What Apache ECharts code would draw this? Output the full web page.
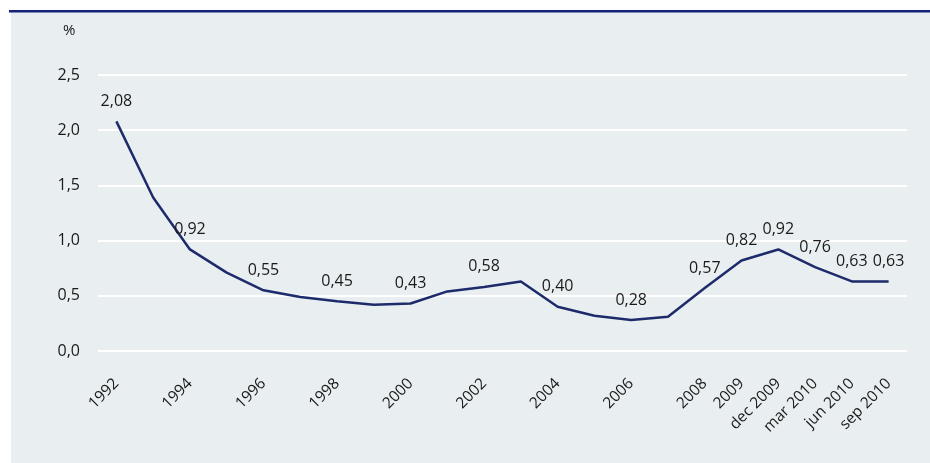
<!DOCTYPE html>
<html><head><meta charset="utf-8">
<script src="https://cdn.jsdelivr.net/npm/echarts@6/dist/echarts.min.js"></script>
<style>html,body{margin:0;padding:0;background:#fff}#c{width:930px;height:463px}</style>
</head><body><div id="c"></div>
<script>
const categories = ['1992','1993','1994','1995','1996','1997','1998','1999','2000','2001','2002','2003','2004','2005','2006','2007','2008','2009','dec 2009','mar 2010','jun 2010','sep 2010'];
const values = [2.08,1.39,0.92,0.71,0.55,0.49,0.45,0.42,0.43,0.54,0.58,0.63,0.40,0.32,0.28,0.31,0.57,0.82,0.92,0.76,0.63,0.63];
const labelledIdx = [0,2,4,6,8,10,12,14,16,17,18,19,20,21];
const shownTickIdx = [0,2,4,6,8,10,12,14,16,17,18,19,20,21];
const yTicks = [0,0.5,1,1.5,2,2.5];

const FONT = '"Open Sans", "Noto Sans", sans-serif';
const chart = echarts.init(document.getElementById('c'), null, {renderer:'canvas'});
chart.setOption({
  animation:false,
  backgroundColor:'#ffffff',
  graphic:[
    {type:'rect', shape:{x:11,y:12,width:919,height:451}, style:{fill:'#e9eef1'}, z:-10},
    {type:'rect', shape:{x:9,y:10,width:921,height:2.5}, style:{fill:'#14237a'}, z:-9},
    {type:'text', left:63, top:23, style:{text:'%', font:'15px '+FONT, fill:'#1a1a1a'}}
  ],
  grid:{left:98, right:23, top:75, bottom:112},
  xAxis:{
    type:'category', data:categories, boundaryGap:true,
    axisLine:{show:false}, axisTick:{show:false},
    axisLabel:{
      rotate:45, margin:30, fontSize:15.5, fontFamily:FONT, color:'#1a1a1a',
      interval:(i)=>shownTickIdx.includes(i)
    }
  },
  yAxis:{
    type:'value', min:yTicks[0], max:yTicks[yTicks.length-1], interval:0.5,
    axisLine:{show:false}, axisTick:{show:false},
    splitLine:{lineStyle:{color:'#ffffff', width:2}},
    axisLabel:{margin:18, fontSize:16, fontFamily:FONT, color:'#1a1a1a',
      formatter:(v)=>v.toFixed(1).replace('.',',')}
  },
  series:[{
    type:'line', data:values, symbol:'circle', symbolSize:0.1, showSymbol:true,
    itemStyle:{color:'#1d2b6b'},
    lineStyle:{color:'#1d2b6b', width:2.5},
    label:{show:true, position:'top', distance:12, fontSize:16, fontFamily:FONT, color:'#1a1a1a',
      formatter:(p)=>labelledIdx.includes(p.dataIndex)? p.value.toFixed(2).replace('.',',') : ''}
  }]
});
</script></body></html>
